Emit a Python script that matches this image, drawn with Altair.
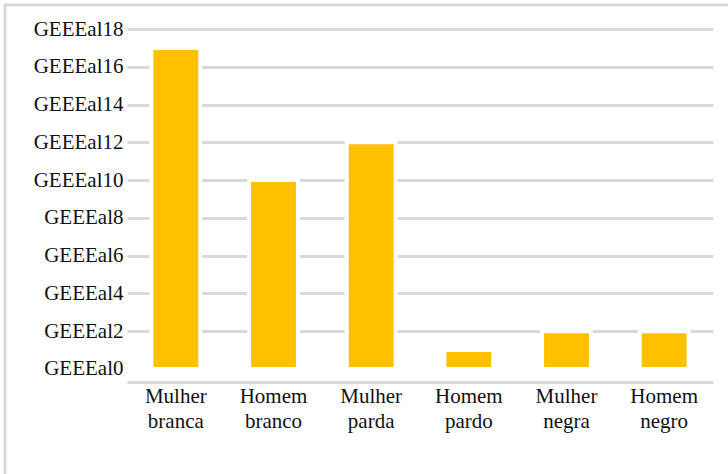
import altair as alt
import pandas as pd

# Categories and their values
groups = ["Mulher branca", "Homem branco", "Mulher parda", "Homem pardo", "Mulher negra", "Homem negro"]
values = [17, 10, 12, 1, 2, 2]
tick_values = [0, 2, 4, 6, 8, 10, 12, 14, 16, 18]

df = pd.DataFrame({"grupo": groups, "valor": values})

FONT = "Liberation Serif"
GRID = "#d9d9d9"
TEXT = "#111111"

y_scale = alt.Scale(domain=[-0.69, 18], nice=False, zero=False)

bars = alt.Chart(df).mark_bar(
    color="#FFC000", stroke="white", strokeWidth=4
).encode(
    x=alt.X(
        "grupo:N",
        sort=groups,
        scale=alt.Scale(paddingInner=0.5, paddingOuter=0.25),
        axis=alt.Axis(
            title=None,
            labelAngle=0,
            labelExpr="split(datum.label, ' ')",
            labelLineHeight=25,
            labelPadding=3,
            labelFont=FONT,
            labelFontSize=21,
            labelColor=TEXT,
            ticks=False,
            domainColor=GRID,
            domainWidth=3,
            grid=False,
        ),
    ),
    y=alt.Y(
        "valor:Q",
        scale=y_scale,
        axis=alt.Axis(
            title=None,
            values=tick_values,
            labelExpr="'GEEEal' + datum.value",
            labelFont=FONT,
            labelFontSize=21,
            labelColor=TEXT,
            labelPadding=4,
            ticks=False,
            domain=False,
            grid=True,
            gridColor=GRID,
            gridWidth=3,
            gridOpacity={"condition": {"test": "datum.value === 0", "value": 0}, "value": 1},
        ),
    ),
    y2=alt.datum(0),
)

# Outer frame around the whole figure
frame = alt.Chart(df).mark_rect(
    fill=None, stroke=GRID, strokeWidth=3, clip=False
).encode(
    x=alt.value(-122), x2=alt.value(640), y=alt.value(-24), y2=alt.value(480)
).transform_filter("datum.grupo == 'Mulher branca'")

chart = alt.layer(frame, bars).properties(
    width=586,
    height=353,
    autosize=alt.AutoSizeParams(type="none"),
    padding={"left": 127, "top": 29, "right": 15, "bottom": 92},
    background="white",
).configure_view(stroke=None)

chart.save("out.html", embed_options={"renderer": "svg", "actions": False})
